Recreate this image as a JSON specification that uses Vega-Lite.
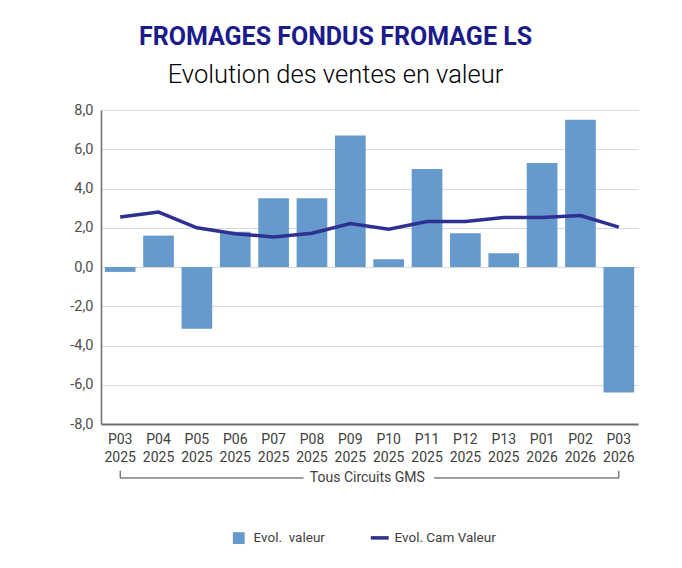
{
  "$schema": "https://vega.github.io/schema/vega-lite/v6.json",
  "width": 537,
  "height": 314,
  "autosize": {"type": "none"},
  "padding": {"left": 101, "top": 110, "right": 44, "bottom": 144},
  "background": "white",
  "config": {
    "locale": {"number": {"decimal": ",", "thousands": " ", "grouping": [3], "currency": ["", " €"], "minus": "-"}},
    "view": {"stroke": null},
    "font": "Roboto",
    "axisY": {
      "labelOverlap": false,
      "labelFont": "Roboto",
      "labelFontSize": 14.5,
      "labelColor": "#4D4D4D",
      "ticks": false,
      "labelPadding": 8,
      "domain": true,
      "domainColor": "#6E6E6E",
      "domainWidth": 1.5,
      "grid": true,
      "gridColor": "#D9D9D9",
      "gridWidth": 1
    },
    "axisX": {
      "labelFont": "Roboto",
      "labelFontSize": 14,
      "labelLineHeight": 18,
      "labelColor": "#404040",
      "ticks": false,
      "domainColor": "#6E6E6E",
      "domainWidth": 2,
      "labelPadding": 8,
      "grid": false
    }
  },
  "title": {
    "text": "FROMAGES FONDUS FROMAGE LS",
    "subtitle": "Evolution des ventes en valeur",
    "anchor": "middle",
    "dx": -34,
    "font": "Roboto",
    "fontSize": 25,
    "fontWeight": "bold",
    "color": "#1B1B8C",
    "subtitleFont": "Roboto",
    "subtitleFontSize": 25.5,
    "subtitleColor": "#000000",
    "subtitleFontWeight": 300,
    "subtitlePadding": 13,
    "offset": 14
  },
  "data": {
    "values": [
      {"periode": "P03 2025", "evol": -0.25, "cam": 2.55},
      {"periode": "P04 2025", "evol": 1.6, "cam": 2.8},
      {"periode": "P05 2025", "evol": -3.15, "cam": 2.0},
      {"periode": "P06 2025", "evol": 1.8, "cam": 1.7},
      {"periode": "P07 2025", "evol": 3.5, "cam": 1.53},
      {"periode": "P08 2025", "evol": 3.5, "cam": 1.72},
      {"periode": "P09 2025", "evol": 6.7, "cam": 2.22},
      {"periode": "P10 2025", "evol": 0.4, "cam": 1.93},
      {"periode": "P11 2025", "evol": 5.0, "cam": 2.32},
      {"periode": "P12 2025", "evol": 1.72, "cam": 2.32},
      {"periode": "P13 2025", "evol": 0.7, "cam": 2.52},
      {"periode": "P01 2026", "evol": 5.3, "cam": 2.52},
      {"periode": "P02 2026", "evol": 7.5, "cam": 2.62},
      {"periode": "P03 2026", "evol": -6.4, "cam": 2.03}
    ]
  },
  "layer": [
    {
      "mark": {"type": "bar"},
      "encoding": {
        "x": {
          "field": "periode",
          "type": "nominal",
          "scale": {
            "domain": ["P03 2025", "P04 2025", "P05 2025", "P06 2025", "P07 2025", "P08 2025", "P09 2025", "P10 2025", "P11 2025", "P12 2025", "P13 2025", "P01 2026", "P02 2026", "P03 2026"],
            "paddingInner": 0.2,
            "paddingOuter": 0.1
          },
          "axis": {
            "title": null,
            "labelAngle": 0,
            "labelExpr": "split(datum.label, ' ')"
          }
        },
        "y": {
          "field": "evol",
          "type": "quantitative",
          "scale": {"domain": [-8, 8], "nice": false},
          "axis": {
            "title": null,
            "values": [-8, -6, -4, -2, 0, 2, 4, 6, 8],
            "tickCount": 9,
            "format": ".1f"
          }
        },
        "color": {
          "datum": "Evol.\u00a0 valeur",
          "scale": {"domain": ["Evol.\u00a0 valeur", "Evol. Cam Valeur"], "range": ["#6699CC", "#2E3192"]},
          "legend": {
            "title": null,
            "orient": "none",
            "legendX": 131,
            "legendY": 421,
            "direction": "horizontal",
            "padding": 0,
            "columnPadding": 38,
            "labelFont": "Roboto",
            "labelFontSize": 13.5,
            "labelColor": "#404040",
            "labelOffset": 8,
            "symbolSize": 140,
            "encode": {
              "symbols": {
                "update": {
                  "shape": {"signal": "datum.value == 'Evol. Cam Valeur' ? 'stroke' : 'square'"},
                  "fill": {"signal": "datum.value == 'Evol. Cam Valeur' ? 'transparent' : '#6699CC'"},
                  "stroke": {"signal": "datum.value == 'Evol. Cam Valeur' ? '#2E3192' : 'transparent'"},
                  "strokeWidth": {"signal": "datum.value == 'Evol. Cam Valeur' ? 3.5 : 0"},
                  "size": {"signal": "datum.value == 'Evol. Cam Valeur' ? 324 : 140"}
                }
              }
            }
          }
        }
      }
    },
    {
      "mark": {"type": "line", "strokeWidth": 3.5},
      "encoding": {
        "x": {"field": "periode", "type": "nominal"},
        "y": {"field": "cam", "type": "quantitative"},
        "color": {"datum": "Evol. Cam Valeur"}
      }
    },
    {
      "data": {"values": [{"groupe": "Tous Circuits GMS"}]},
      "mark": {"type": "rule", "color": "#404040", "strokeWidth": 1, "x2Offset": 30},
      "encoding": {
        "x": {"datum": "P03 2025", "type": "nominal"},
        "x2": {"datum": "P07 2025"},
        "y": {"datum": -10.75, "type": "quantitative"}
      }
    },
    {
      "data": {"values": [{"groupe": "Tous Circuits GMS"}]},
      "mark": {"type": "rule", "color": "#404040", "strokeWidth": 1, "xOffset": 7},
      "encoding": {
        "x": {"datum": "P11 2025", "type": "nominal"},
        "x2": {"datum": "P03 2026"},
        "y": {"datum": -10.75, "type": "quantitative"}
      }
    },
    {
      "data": {"values": [{"groupe": "Tous Circuits GMS"}]},
      "mark": {"type": "rule", "color": "#404040", "strokeWidth": 1},
      "encoding": {
        "x": {"datum": "P03 2025", "type": "nominal"},
        "y": {"datum": -10.38, "type": "quantitative"},
        "y2": {"datum": -10.75}
      }
    },
    {
      "data": {"values": [{"groupe": "Tous Circuits GMS"}]},
      "mark": {"type": "rule", "color": "#404040", "strokeWidth": 1},
      "encoding": {
        "x": {"datum": "P03 2026", "type": "nominal"},
        "y": {"datum": -10.38, "type": "quantitative"},
        "y2": {"datum": -10.75}
      }
    },
    {
      "data": {"values": [{"groupe": "Tous Circuits GMS"}]},
      "mark": {"type": "text", "color": "#404040", "fontSize": 14, "font": "Roboto", "baseline": "middle", "align": "center", "dx": 17},
      "encoding": {
        "x": {"datum": "P09 2025", "type": "nominal"},
        "y": {"datum": -10.75, "type": "quantitative"},
        "text": {"field": "groupe"}
      }
    }
  ]
}
